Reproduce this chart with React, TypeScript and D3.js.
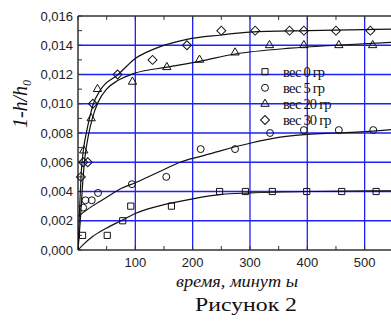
import * as d3 from 'd3';

// measured points (time in minutes, 1 - h/h0)
const ves0 = [[8, 0.001], [51, 0.001], [78, 0.002], [92, 0.003], [163, 0.003], [247, 0.004], [292, 0.004], [339, 0.004], [399, 0.004], [460, 0.004], [520, 0.004]];
const ves5 = [[9, 0.0029], [13, 0.0034], [24, 0.0034], [35, 0.0039], [94, 0.0045], [154, 0.005], [214, 0.0069], [274, 0.0069], [335, 0.008], [394, 0.0082], [455, 0.0082], [515, 0.0082]];
const ves20 = [[10, 0.0068], [23, 0.009], [34, 0.011], [95, 0.0115], [155, 0.0125], [212, 0.013], [274, 0.0135], [334, 0.014], [394, 0.014], [455, 0.014], [514, 0.014]];
const ves30 = [[5, 0.005], [9, 0.006], [17, 0.006], [26, 0.01], [69, 0.012], [130, 0.013], [190, 0.014], [250, 0.015], [309, 0.015], [369, 0.015], [394, 0.015], [450, 0.015], [510, 0.015]];

// fitted curves
const fit0 = [[0, 0], [10, 0.0004], [25, 0.0009], [50, 0.0015], [75, 0.002], [100, 0.0025], [150, 0.0031], [200, 0.0035], [250, 0.0038], [300, 0.0039], [400, 0.004], [550, 0.00405]];
const fit5 = [[0, 0.0023], [25, 0.003], [50, 0.0036], [75, 0.0042], [100, 0.0046], [150, 0.0055], [178, 0.006], [214, 0.0064], [250, 0.0068], [300, 0.0073], [350, 0.0077], [400, 0.0079], [450, 0.008], [500, 0.0081], [550, 0.00825]];
const fit20 = [[0, 0], [4, 0.002], [8, 0.0045], [12, 0.0063], [18, 0.0078], [25, 0.009], [35, 0.0101], [50, 0.011], [70, 0.0116], [100, 0.0121], [155, 0.0125], [212, 0.0129], [274, 0.0134], [370, 0.0138], [450, 0.014], [550, 0.0142]];
const fit30 = [[0, 0], [3, 0.003], [6, 0.0055], [10, 0.007], [15, 0.0081], [20, 0.009], [26, 0.0099], [40, 0.011], [70, 0.012], [100, 0.0131], [130, 0.0137], [190, 0.0144], [250, 0.0147], [300, 0.0149], [400, 0.015], [550, 0.0151]];

const legendLabels = ['вес 0 гр', 'вес 5 гр', 'вес 20 гр', 'вес 30 гр'];
const xTicks = [100, 200, 300, 400, 500];
const yTicks = [0, 0.002, 0.004, 0.006, 0.008, 0.01, 0.012, 0.014, 0.016];

const W = 391;
const H = 321;
const x = d3.scaleLinear().domain([0, 550]).range([78, 393.3]);
const y = d3.scaleLinear().domain([0, 0.016]).range([250, 16]);

const line = d3.line<number[]>()
  .x(d => x(d[0]))
  .y(d => y(d[1]))
  .curve(d3.curveMonotoneX);

const symSquare = d3.symbol().type(d3.symbolSquare).size(38)();
const symCircle = d3.symbol().type(d3.symbolCircle).size(38)();
const symTriangle = d3.symbol().type(d3.symbolTriangle).size(30)();
const symDiamond = d3.symbol().type(d3.symbolSquare).size(40)();

const series = [
  { pts: ves0, fit: fit0, path: symSquare, rot: 0 },
  { pts: ves5, fit: fit5, path: symCircle, rot: 0 },
  { pts: ves20, fit: fit20, path: symTriangle, rot: 0 },
  { pts: ves30, fit: fit30, path: symDiamond, rot: 45 },
];

const fmt = (v: number) => v.toFixed(3).replace('.', ',');

export default function App() {
  const x0 = x(0);
  const x1 = x(550);
  const y0 = y(0);
  const y1 = y(0.016);
  const minorX = d3.range(0, 551, 50);
  const minorY = d3.range(0, 0.01601, 0.001);
  return (
    <svg width={W} height={H} style={{ position: 'absolute', left: 0, top: 0, background: '#fff' }}>
      <defs>
        <clipPath id="plot">
          <rect x={x0} y={y1} width={x1 - x0} height={y0 - y1} />
        </clipPath>
      </defs>
      {/* grid */}
      <g stroke="#1f1fff" strokeWidth={1.3}>
        {xTicks.map(t => <line key={'gx' + t} x1={x(t)} x2={x(t)} y1={y1} y2={y0} />)}
        {yTicks.slice(1, -1).map(t => <line key={'gy' + t} x1={x0} x2={x1} y1={y(t)} y2={y(t)} />)}
      </g>
      {/* axes frame */}
      <g stroke="#333" strokeWidth={1.5} fill="none">
        <line x1={x0} x2={x0} y1={y1} y2={y0} />
        <line x1={x0} x2={x1} y1={y0} y2={y0} />
        <line x1={x0} x2={x1} y1={y1} y2={y1} />
      </g>
      <g stroke="#333" strokeWidth={1}>
        {minorX.map(t => (
          <g key={'tx' + t}>
            <line x1={x(t)} x2={x(t)} y1={y0} y2={y0 - 4} />
            <line x1={x(t)} x2={x(t)} y1={y1} y2={y1 + 4} />
          </g>
        ))}
        {minorY.map(t => <line key={'ty' + t} x1={x0} x2={x0 + 4} y1={y(t)} y2={y(t)} />)}
      </g>
      {/* tick labels */}
      <g fontFamily="Liberation Sans, Arial, sans-serif" fontSize={13} fill="#222">
        {yTicks.map(t => (
          <text key={'ly' + t} x={73} y={y(t) + 4.5} textAnchor="end">{fmt(t)}</text>
        ))}
        {xTicks.map(t => (
          <text key={'lx' + t} x={x(t)} y={267} textAnchor="middle">{t}</text>
        ))}
      </g>
      {/* fits and markers */}
      <g clipPath="url(#plot)">
        {series.map((s, i) => (
          <path key={'f' + i} d={line(s.fit) || ''} fill="none" stroke="#111" strokeWidth={1.2} />
        ))}
      </g>
      {series.map((s, i) => (
        <g key={'m' + i}>
          {s.pts.map((p, j) => (
            <path key={j} d={s.path || ''} transform={`translate(${x(p[0])},${y(p[1])}) rotate(${s.rot})`}
              fill="none" stroke="#111" strokeWidth={1} />
          ))}
        </g>
      ))}
      {/* legend */}
      <g fontFamily="Liberation Serif, Times New Roman, serif" fontSize={14.5} fill="#111">
        {series.map((s, i) => (
          <g key={'lg' + i} transform={`translate(0,${71.7 + i * 16.1})`}>
            <path d={s.path || ''} transform={`translate(265,0) rotate(${s.rot})`} fill="none" stroke="#111" strokeWidth={1} />
            <text x={283} y={5} letterSpacing={-0.8}>{legendLabels[i]}</text>
          </g>
        ))}
      </g>
      {/* titles */}
      <text x={176} y={287} fontFamily="Liberation Serif, Times New Roman, serif"
        fontStyle="italic" fontSize={16} fill="#111" textLength={122} lengthAdjust="spacingAndGlyphs">время, минут ы</text>
      <text x={195} y={311} fontFamily="Liberation Serif, Times New Roman, serif"
        fontSize={19} fill="#111" textLength={102} lengthAdjust="spacingAndGlyphs">Рисунок 2</text>
      <text transform="translate(27,104) rotate(-90)" textAnchor="middle" fontFamily="Liberation Serif, Times New Roman, serif"
        fontStyle="italic" fontSize={20} fill="#111">
        1-h/h<tspan fontSize={12} dy={4}>0</tspan>
      </text>
    </svg>
  );
}
